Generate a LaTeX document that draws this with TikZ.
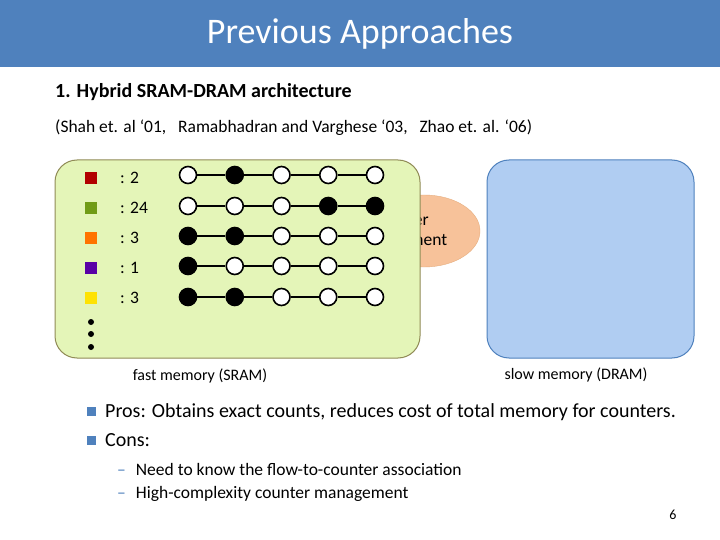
\documentclass[tikz,border=0pt]{standalone}
\usepackage{fontspec}
\setmainfont{Carlito}
\usetikzlibrary{shapes.geometric}
\definecolor{titlebg}{HTML}{4F81BD}
\definecolor{greenbox}{HTML}{E4F5B8}
\definecolor{bluebox}{HTML}{B0CDF2}
\definecolor{orangeell}{HTML}{F7C29A}
\newcommand{\bsq}{\textcolor{titlebg}{\rule[1pt]{9pt}{9pt}}}
\begin{document}
\begin{tikzpicture}[x=1pt,y=-1pt,
  every node/.style={inner sep=0pt},
  dot/.style={circle,draw,line width=1.6pt,minimum size=17pt,inner sep=0pt},
  full/.style={dot,fill=black},
  empty/.style={dot,fill=white},
  sq/.style={minimum size=12pt,inner sep=0pt},
  lbl/.style={anchor=west,font=\fontsize{17.5}{20}\selectfont},
  dd/.style={circle,fill=black,minimum size=6pt,inner sep=0pt}]
\useasboundingbox (0,0) rectangle (720,540);
\fill[white] (0,0) rectangle (720,540);
\fill[titlebg] (0,0) rectangle (720,67);
\node[text=white,font=\fontsize{36}{40}\selectfont] (title) at (360,34) {Previous Approaches};
\node[anchor=west,font=\bfseries\fontsize{20}{24}\selectfont] (h) at (55,92) {1. Hybrid SRAM-DRAM architecture};
\node[anchor=west,font=\fontsize{17.5}{20}\selectfont] (refs) at (55,128) {(Shah et. al ‘01, \ \ Ramabhadran and Varghese ‘03, \ \ Zhao et. al. ‘06)};
% orange ellipse behind
\node[ellipse,fill=orangeell,draw=orangeell!70!brown,minimum width=112pt,minimum height=72pt] (ell) at (424,231) {};
\node[font=\fontsize{17.5}{20}\selectfont,align=center] (elltxt) at (400,231) {Counter\\management};
% boxes
\draw[fill=greenbox,draw=gray!60!olive,line width=1pt,rounded corners=22pt] (55,160) rectangle (420,358);
\draw[fill=bluebox,draw=titlebg,line width=1pt,rounded corners=22pt] (487,160) rectangle (694,358);
% squares and labels
\node[sq,fill=red!70!black] (s1) at (91,178) {};
\node[sq,fill=olive!60!green] (s2) at (91,208) {};
\node[sq,fill=orange!90!red] (s3) at (91,238) {};
\node[sq,fill=violet!70!blue] (s4) at (91,268) {};
\node[sq,fill=yellow!85!orange] (s5) at (91,298) {};
\node[lbl] (l1) at (120,178) {: 2};
\node[lbl] (l2) at (120,208) {: 24};
\node[lbl] (l3) at (120,238) {: 3};
\node[lbl] (l4) at (120,268) {: 1};
\node[lbl] (l5) at (120,298) {: 3};
\node[dd] (d1) at (91,322) {};
\node[dd] (d2) at (91,334) {};
\node[dd] (d3) at (91,347) {};
% circles
\foreach \r/\y/\pat in {1/175/{0,1,0,0,0},2/206/{0,0,0,1,1},3/236/{1,1,0,0,0},4/266/{1,0,0,0,0},5/297/{1,1,0,0,0}}{
  \foreach \v [count=\c] in \pat {
    \pgfmathsetmacro{\xx}{188+46.75*(\c-1)}
    \ifnum\v=1 \node[full] (c\r-\c) at (\xx,\y) {}; \else \node[empty] (c\r-\c) at (\xx,\y) {}; \fi
  }
  \foreach \a/\b in {1/2,2/3,3/4,4/5}{ \draw[line width=1.2pt] (c\r-\a) -- (c\r-\b); }
}
\node[font=\fontsize{16}{18}\selectfont] (fm) at (200,376) {fast memory (SRAM)};
\node[font=\fontsize{16}{18}\selectfont] (sm) at (576,375) {slow memory (DRAM)};
% bullets
\node[anchor=west,font=\fontsize{20}{24}\selectfont] (p1) at (87,412) {\bsq\hspace{9pt}Pros: Obtains exact counts, reduces cost of total memory for counters.};
\node[anchor=west,font=\fontsize{20}{24}\selectfont] (p2) at (87,440) {\bsq\hspace{9pt}Cons:};
\node[anchor=west,font=\fontsize{17.5}{20}\selectfont] (c1) at (117,469) {\textcolor{titlebg}{--}\hspace{10pt}Need to know the flow-to-counter association};
\node[anchor=west,font=\fontsize{17.5}{20}\selectfont] (c2) at (117,494) {\textcolor{titlebg}{--}\hspace{10pt}High-complexity counter management};
\node[font=\fontsize{14}{16}\selectfont] (pg) at (673,515) {6};
\end{tikzpicture}
\end{document}
